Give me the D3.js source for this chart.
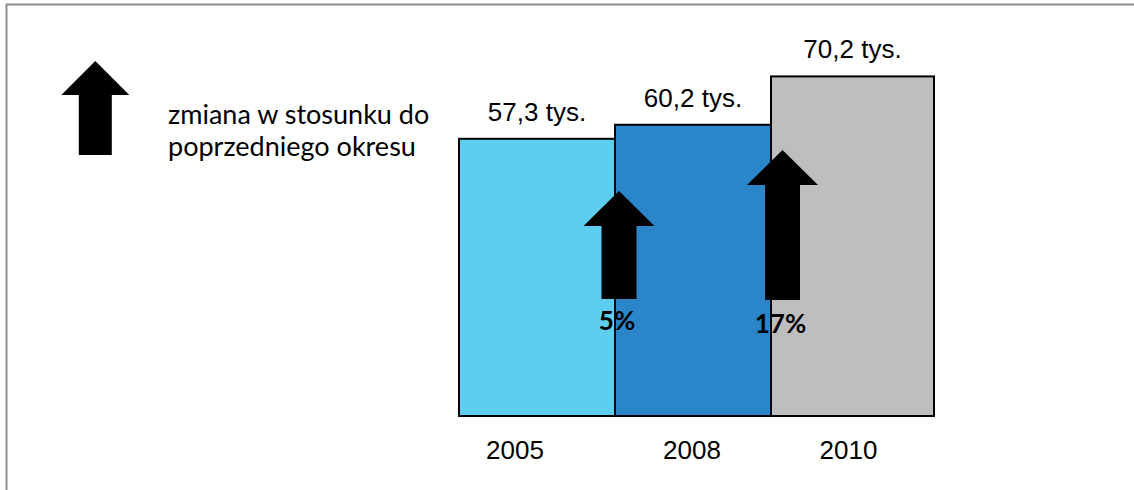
<!DOCTYPE html>
<html>
<head>
<meta charset="utf-8">
<script src="https://cdn.jsdelivr.net/npm/d3@7"></script>
<style>
    body { margin: 0; background: #fff; }
</style>
</head>
<body>
<div id="chart"></div>
<script>
// Chart data
const years = ['2005', '2008', '2010'];
const values = [57.3, 60.2, 70.2];
const valueLabels = ['57,3 tys.', '60,2 tys.', '70,2 tys.'];
const changes = [5, 17];
const changeLabels = ['5%', '17%'];
const legendLines = ['zmiana w stosunku do', 'poprzedniego okresu'];

const barColours = ['#5ECEF0', '#2A86C9', '#BEBEBE'];

const width = 1134;
const height = 490;

const svg = d3.select('#chart')
    .append('svg')
    .attr('width', width)
    .attr('height', height);

// Frame around the chart area (cut off at right and bottom)
svg.append('rect')
    .attr('x', 6.5)
    .attr('y', 4.5)
    .attr('width', 1200)
    .attr('height', 600)
    .attr('fill', 'none')
    .attr('stroke', '#8f8f8f')
    .attr('stroke-width', 2);

// Scales
const x = d3.scaleBand()
    .domain(years)
    .range([459, 927])
    .paddingInner(0)
    .paddingOuter(0);

const y = d3.scaleLinear()
    .domain([0, 80])
    .range([416, 29]);

const lastExtra = 7; // last bar is drawn slightly wider
const barW = (d, i) => x.bandwidth() + (i === years.length - 1 ? lastExtra : 0);
const barMid = (d, i) => x(years[i]) + barW(d, i) / 2;

// Bars
svg.selectAll('rect.bar')
    .data(values)
    .enter()
    .append('rect')
    .attr('class', 'bar')
    .attr('x', (d, i) => x(years[i]))
    .attr('y', d => y(d))
    .attr('width', barW)
    .attr('height', d => y(0) - y(d))
    .attr('fill', (d, i) => barColours[i])
    .attr('stroke', '#000')
    .attr('stroke-width', 2);

// Value labels above the bars
svg.selectAll('text.value')
    .data(values)
    .enter()
    .append('text')
    .attr('class', 'value')
    .attr('x', barMid)
    .attr('y', d => y(d) - 18)
    .attr('text-anchor', 'middle')
    .style('font-family', '"Liberation Sans", Arial, sans-serif')
    .style('font-size', '26px')
    .text((d, i) => valueLabels[i]);

// Year labels under the bars
const yearDx = [-22, -1, -4];
svg.selectAll('text.year')
    .data(years)
    .enter()
    .append('text')
    .attr('class', 'year')
    .attr('x', (d, i) => barMid(values[i], i) + yearDx[i])
    .attr('y', 459)
    .attr('text-anchor', 'middle')
    .style('font-family', '"Liberation Sans", Arial, sans-serif')
    .style('font-size', '26px')
    .text(d => d);

// Block arrow shape pointing up
function arrowPath(cx, tipY, bottomY, headW, shaftW, headH) {
    const p = d3.path();
    p.moveTo(cx, tipY);
    p.lineTo(cx + headW / 2, tipY + headH);
    p.lineTo(cx + shaftW / 2, tipY + headH);
    p.lineTo(cx + shaftW / 2, bottomY);
    p.lineTo(cx - shaftW / 2, bottomY);
    p.lineTo(cx - shaftW / 2, tipY + headH);
    p.lineTo(cx - headW / 2, tipY + headH);
    p.closePath();
    return p.toString();
}

// Change arrows between bars
const arrowLen = d3.scaleLinear().domain([5, 17]).range([108, 150]);
const arrowDx = [4, 11.5];
const arrowBottom = [299, 300];

changes.forEach((c, i) => {
    const cx = x(years[i + 1]) + arrowDx[i];
    const bottom = arrowBottom[i];
    svg.append('path')
        .attr('d', arrowPath(cx, bottom - arrowLen(c), bottom, 71, 35, 35))
        .attr('fill', '#000');

    svg.append('text')
        .attr('x', cx - 2)
        .attr('y', bottom + 31 + i * 2)
        .attr('text-anchor', 'middle')
        .style('font-family', 'Lato, "Open Sans", sans-serif')
        .style('font-weight', 'bold')
        .style('font-size', '26px')
        .text(changeLabels[i]);
});

// Legend
svg.append('path')
    .attr('d', arrowPath(95.3, 61, 155, 68, 33, 34))
    .attr('fill', '#000');

svg.selectAll('text.legend')
    .data(legendLines)
    .enter()
    .append('text')
    .attr('class', 'legend')
    .attr('x', 168)
    .attr('y', (d, i) => 124 + i * 32)
    .style('font-family', 'Lato, "Open Sans", sans-serif')
    .style('font-size', '27px')
    .text(d => d);
</script>
</body>
</html>
